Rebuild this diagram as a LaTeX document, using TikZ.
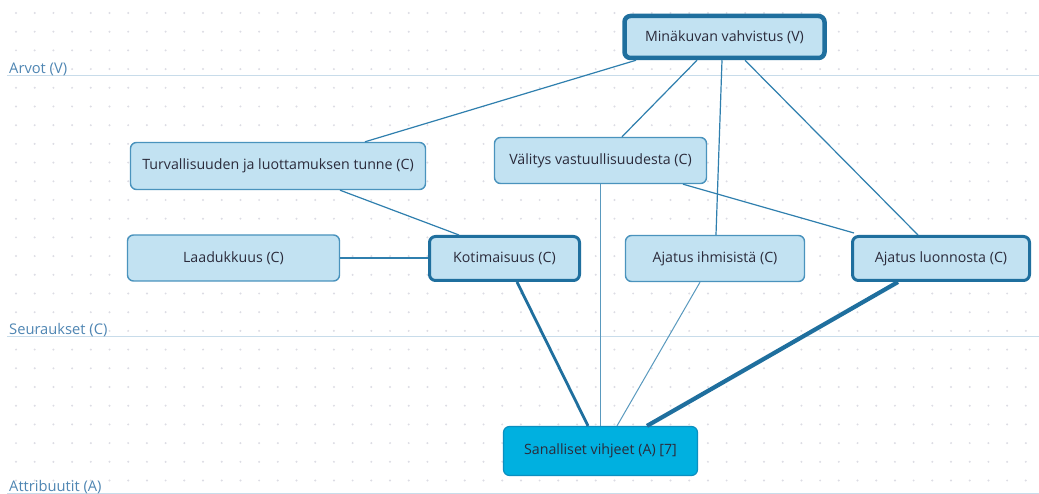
\documentclass[tikz,border=0pt]{standalone}
\usepackage{fontspec}
\setmainfont{Open Sans}
\definecolor{boxfill}{HTML}{C2E2F2}
\definecolor{thinrim}{HTML}{4A93BD}
\definecolor{thickrim}{HTML}{1F6F9E}
\definecolor{linkcol}{HTML}{2F7FAE}
\definecolor{attrfill}{HTML}{00B0E0}
\definecolor{attrrim}{HTML}{0A8FC0}
\definecolor{txt}{HTML}{2B2B3B}
\definecolor{levelline}{HTML}{C8DCEA}
\definecolor{leveltxt}{HTML}{4F86B3}
\definecolor{griddot}{HTML}{DCDCE4}
\begin{document}
\begin{tikzpicture}[x=1pt,y=-1pt,
  concept/.style={draw=thinrim,line width=1.4pt,fill=boxfill,rounded corners=6pt,
    text=txt,font=\fontsize{14.2}{16}\selectfont,inner sep=0pt,anchor=center},
  strong/.style={concept,draw=thickrim,line width=3pt},
  strongest/.style={concept,draw=thickrim,line width=4.5pt},
  attrbox/.style={concept,draw=attrrim,fill=attrfill,line width=1.2pt},
  levelrule/.style={draw=levelline,line width=1pt},
  leveltag/.style={text=leveltxt,font=\fontsize{14.7}{16}\selectfont,anchor=base west,inner sep=0pt},
  link/.style={draw=linkcol,line width=1.2pt},
  faint/.style={link,draw=linkcol!80,line width=1pt},
  bold/.style={link,draw=thickrim,line width=2.8pt},
  heavy/.style={link,draw=thickrim,line width=4.2pt}]

% canvas and dotted grid
\fill[white] (0,0) rectangle (1039,494);
\useasboundingbox (0,0) rectangle (1039,494);
\foreach \i in {0,...,55}{
  \foreach \j in {0,...,25}{
    \fill[griddot] ({16+18.7*\i},{13+18.7*\j}) circle (1.1pt);
  }
}

% level rules and their labels
\draw[levelrule] (7,75.5) -- (1039,75.5);
\draw[levelrule] (7,336.5) -- (1039,336.5);
\draw[levelrule] (7,493.5) -- (1039,493.5);
\node[leveltag] (lv) at (9,73.5) {Arvot (V)};
\node[leveltag] (lc) at (9,334.5) {Seuraukset (C)};
\node[leveltag] (la) at (9,491.5) {Attribuutit (A)};

% concepts
\node[strongest,minimum width=200pt,minimum height=42pt] (V) at (724.5,37) {Minäkuvan vahvistus (V)};
\node[concept,minimum width=295pt,minimum height=47pt] (T) at (278,166) {Turvallisuuden ja luottamuksen tunne (C)};
\node[concept,minimum width=212pt,minimum height=46pt] (Va) at (600.5,160.5) {Välitys vastuullisuudesta (C)};
\node[concept,minimum width=212pt,minimum height=46pt] (L) at (233.5,258) {Laadukkuus (C)};
\node[strong,minimum width=150pt,minimum height=44pt] (K) at (504.5,258.5) {Kotimaisuus (C)};
\node[concept,minimum width=179pt,minimum height=46pt] (Ih) at (715,258.5) {Ajatus ihmisistä (C)};
\node[strong,minimum width=177pt,minimum height=44pt] (Lu) at (941,258.5) {Ajatus luonnosta (C)};
\node[attrbox,minimum width=194pt,minimum height=49pt] (S) at (600.5,451) {Sanalliset vihjeet (A) [7]};

% links
\draw[link] ([xshift=-88.5pt]V.south) -- ([xshift=87pt]T.north);
\draw[link] ([xshift=-27.5pt]V.south) -- ([xshift=21.5pt]Va.north);
\draw[link] ([xshift=-2.5pt]V.south) -- ([xshift=1pt]Ih.north);
\draw[link] ([xshift=20.5pt]V.south) -- ([xshift=-23pt]Lu.north);
\draw[link] ([xshift=62pt]T.south) -- ([xshift=-45.5pt]K.north);
\draw[link] (L.east) -- (L.east -| K.west);
\draw[link] ([xshift=82.5pt]Va.south) -- ([shift={(3pt,2pt)}]Lu.north west);
\draw[faint] (Va.south) -- (S.north);
\draw[bold] ([xshift=12.5pt]K.south) -- ([xshift=-12.5pt]S.north);
\draw[faint] ([xshift=-15pt]Ih.south) -- ([xshift=16.5pt]S.north);
\draw[heavy] ([xshift=-43pt]Lu.south) -- ([xshift=46.5pt]S.north);
\end{tikzpicture}
\end{document}
